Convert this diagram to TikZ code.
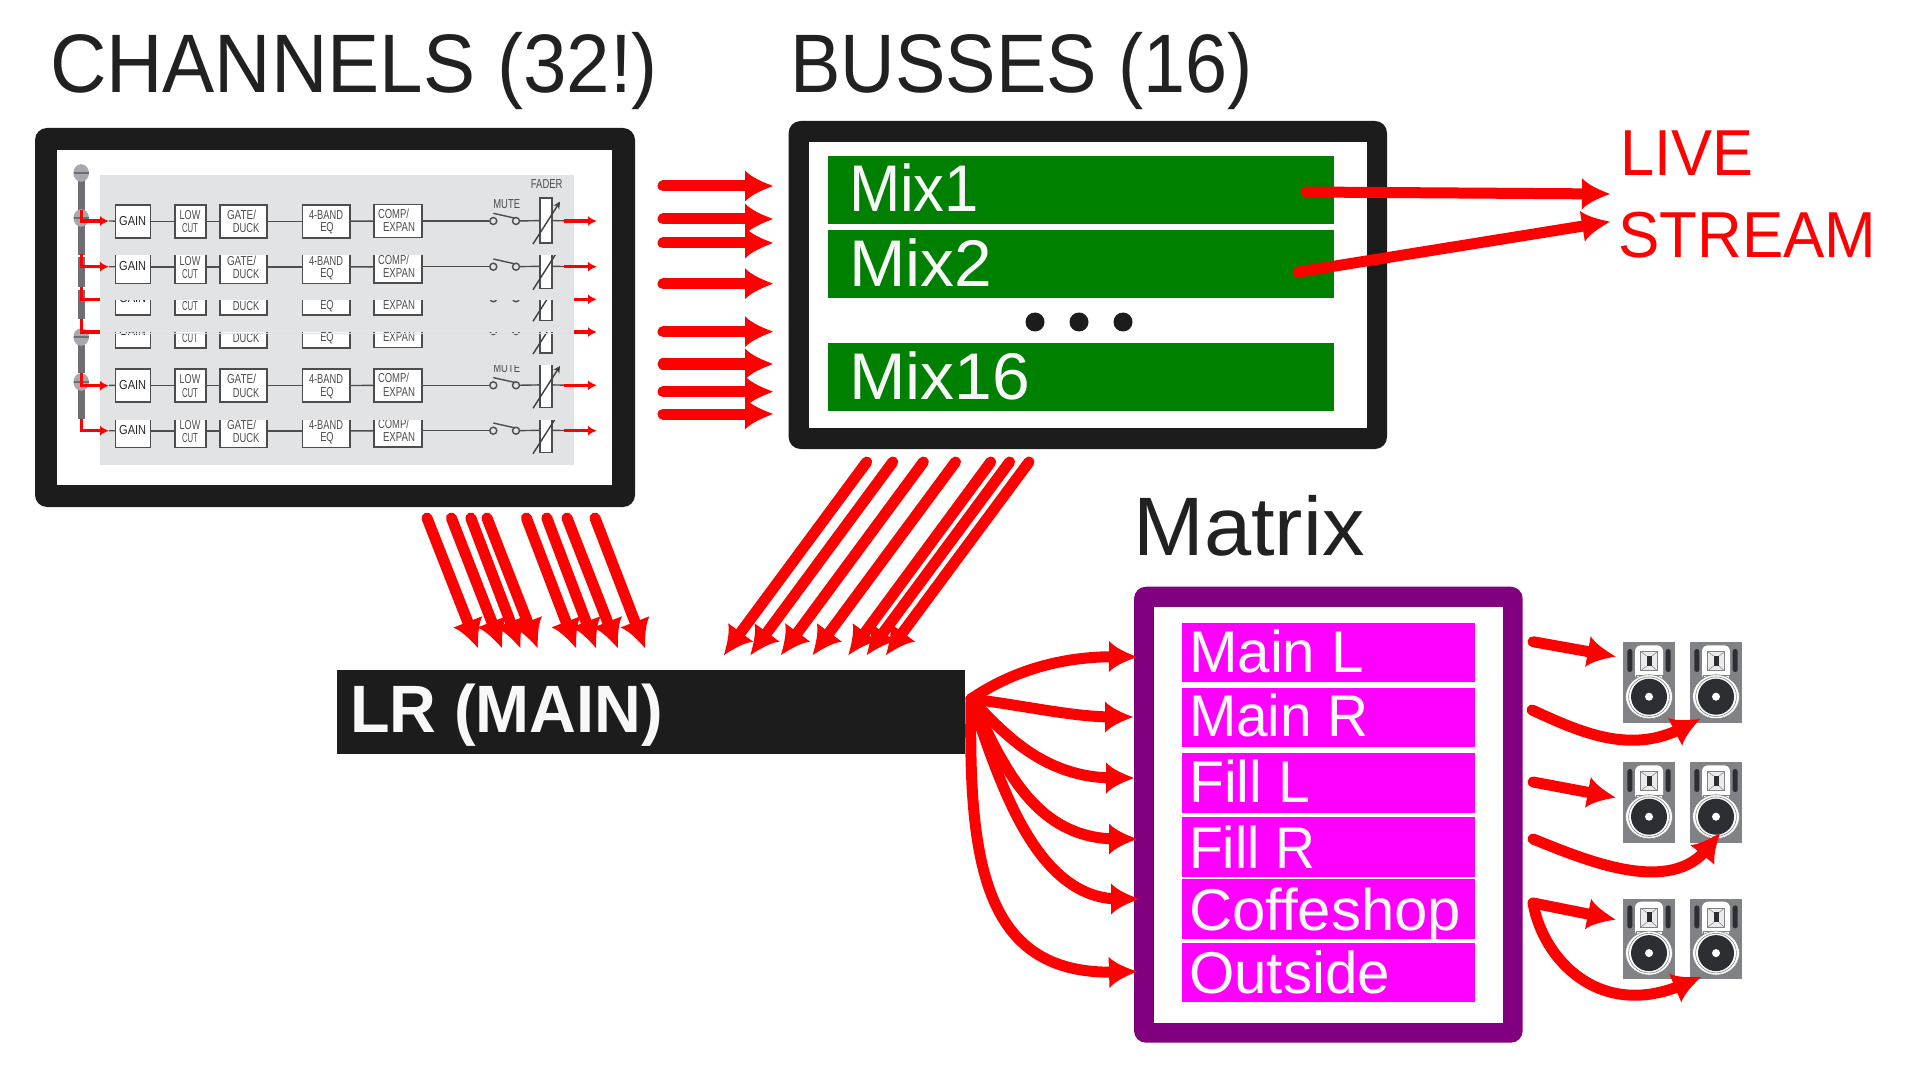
\documentclass[tikz,border=0pt]{standalone}
\usepackage{fontspec}
\usepackage{graphicx}
\setmainfont{Liberation Sans}
\usetikzlibrary{arrows.meta}
\newdimen\pxu \pxu=0.5pt
\newcommand{\fitw}[2]{\resizebox{#1\pxu}{\height}{#2}}
\pgfdeclarearrow{
  name=Swoop,
  defaults={length=13pt,width=15pt},
  setup code={
    \pgfarrowssettipend{\pgfarrowlength}
    \pgfarrowssetbackend{0pt}
    \pgfarrowssetlineend{.3\pgfarrowlength}
    \pgfarrowssetvisualbackend{0pt}
    \pgfarrowshullpoint{\pgfarrowlength}{0pt}
    \pgfarrowsupperhullpoint{0pt}{.5\pgfarrowwidth}
    \pgfarrowssavethe\pgfarrowlength
    \pgfarrowssavethe\pgfarrowwidth
  },
  drawing code={
    \pgfpathmoveto{\pgfqpoint{\pgfarrowlength}{0pt}}
    \pgfpathcurveto{\pgfqpoint{.65\pgfarrowlength}{.12\pgfarrowwidth}}{\pgfqpoint{.22\pgfarrowlength}{.28\pgfarrowwidth}}{\pgfqpoint{0pt}{.5\pgfarrowwidth}}
    \pgfpathlineto{\pgfqpoint{0pt}{-.5\pgfarrowwidth}}
    \pgfpathcurveto{\pgfqpoint{.22\pgfarrowlength}{-.28\pgfarrowwidth}}{\pgfqpoint{.65\pgfarrowlength}{-.12\pgfarrowwidth}}{\pgfqpoint{\pgfarrowlength}{0pt}}
    \pgfpathclose
    \pgfusepathqfill
  },
  parameters={\the\pgfarrowlength,\the\pgfarrowwidth},
}
\definecolor{frameblack}{HTML}{1C1C1C}
\definecolor{panelgrey}{HTML}{E2E3E5}
\definecolor{wiregrey}{HTML}{4D4D4F}
\definecolor{textgrey}{HTML}{4D4D4F}
\definecolor{micbody}{HTML}{6D6E73}
\definecolor{michead}{HTML}{A7A9AC}
\definecolor{spkgrey}{HTML}{808285}
\definecolor{spkdark}{HTML}{2D2E33}
\definecolor{mixgreen}{HTML}{008000}
\definecolor{matpurple}{HTML}{800080}
\definecolor{matpink}{HTML}{FF00FF}
\definecolor{titleink}{HTML}{212121}
\definecolor{paperwhite}{HTML}{F8F8F8}
\tikzset{
  x=0.5pt,y=-0.5pt,
  bigarr/.style={color=red,line width=5.5pt,line cap=round,-{Swoop[length=14pt,width=15.5pt]}},
  tinyarr/.style={color=red,line width=1.75pt,-{Swoop[length=4.2pt,width=4.8pt]}},
  frameouter/.style={fill=frameblack,rounded corners=6pt,inner sep=0pt,outer sep=0pt,anchor=north west},
  plainbox/.style={inner sep=0pt,outer sep=0pt,anchor=north west},
  titletext/.style={inner sep=0pt,outer sep=0pt,anchor=base west,text=titleink,font=\fontsize{41.5}{48}\selectfont},
  bartext/.style={inner sep=0pt,outer sep=0pt,anchor=base west,text=paperwhite,font=\fontsize{33}{40}\selectfont},
  mattext/.style={inner sep=0pt,outer sep=0pt,anchor=base west,text=paperwhite,font=\fontsize{29.5}{36}\selectfont},
  livetext/.style={inner sep=0pt,outer sep=0pt,anchor=base west,text=red,font=\fontsize{32.5}{40}\selectfont},
  stripbox/.style={draw=wiregrey,fill=white,line width=.75pt,inner sep=0pt,outer sep=0pt,anchor=west,minimum height=16.5pt},
  striptext/.style={inner sep=0pt,outer sep=0pt,text=textgrey,font=\fontsize{6.5}{8}\selectfont},
  wire/.style={draw=wiregrey,line width=.7pt},
  dotnode/.style={circle,fill=frameblack,inner sep=0pt,minimum size=9.5pt},
  speakerbody/.style={fill=spkgrey,inner sep=0pt,outer sep=0pt,anchor=north west,minimum width=25.85pt,minimum height=40.2pt},
}
\newcommand{\rectnode}[6]{\node[#1,minimum width={(#4-#2)*0.5pt},minimum height={(#5-#3)*0.5pt}] (#6) at (#2,#3) {};}
\newcommand{\rarrow}[5]{\coordinate (#1s) at (#2,#3); \coordinate (#1e) at (#4,#5); \draw[bigarr] (#1s) -- (#1e);}
\newcommand{\carrow}[9]{\coordinate (#1s) at (#2,#3); \coordinate (#1e) at (#8,#9); \draw[bigarr] (#1s) .. controls (#4,#5) and (#6,#7) .. (#1e);}
\newcommand{\sm}[5]{\node[striptext] (#1) at (#2,#3) {\fitw{#4}{#5}};}
\newcommand{\micbody}[4]{\fill[micbody] (#2,#3) rectangle (#2+7.2,#4);}
\newcommand{\michead}[2]{%
  \fill[michead] (81.2,#2) ellipse [x radius=3.9pt,y radius=4.4pt];
  \draw[draw=micbody,line width=.6pt] (73.5,#2) -- (89,#2);}
\newcommand{\sigl}[4]{\coordinate (#1a) at (81.5,#2); \coordinate (#1b) at (81.5,#3); \coordinate (#1c) at (108.5,#3);
  \draw[tinyarr] (#1a) -- (#1b) -- (#1c);}
\newcommand{\sigr}[3]{\coordinate (#1a) at (#2,#3); \coordinate (#1b) at (596.5,#3); \draw[tinyarr] (#1a) -- (#1b);}
\newcommand{\speaker}[3]{%
  \node[speakerbody] (#1) at (#2,#3) {};
  \begin{scope}[shift={(#2,#3)}]
    \fill[spkdark,rounded corners=1.2pt] (4.3,6.7) rectangle (9.3,29.7);
    \fill[spkdark,rounded corners=1.2pt] (42.7,6.7) rectangle (47.7,29.7);
    \fill[white,rounded corners=3pt] (12,3) rectangle (40,38);
    \draw[draw=spkgrey,line width=.25pt,fill=white] (13,33) -- (39,33) -- (39,39) -- (13,39) -- cycle;
    \draw[draw=spkgrey,fill=white,line width=.3pt] (26,54.4) ellipse [x radius=11.7pt,y radius=11pt];
    \draw[draw=spkgrey,line width=.3pt] (26,54.4) ellipse [x radius=10.2pt,y radius=9.9pt];
    \fill[spkdark] (26,54.4) ellipse [x radius=9pt,y radius=9pt];
    \fill[white] (26,54.4) circle [radius=2pt];
    \draw[draw=spkgrey,fill=black!8,line width=.35pt] (17.7,9.4) rectangle (34.3,28.4);
    \draw[draw=spkgrey,line width=.25pt] (17.7,9.4) -- (23.7,13.7) (34.3,9.4) -- (29,13.7) (17.7,28.4) -- (23.7,23.7) (34.3,28.4) -- (29,23.7);
    \fill[spkdark] (23.7,13.7) rectangle (29,23.7);
  \end{scope}}
\begin{document}
\begin{tikzpicture}
\useasboundingbox (0,0) rectangle (1920,1080);
\fill[white] (0,0) rectangle (1920,1080);
% titles
\node[titletext] (tchan) at (50,93) {\fitw{608}{CHANNELS (32!)}};
\node[titletext] (tbus) at (790.5,93) {\fitw{462}{BUSSES (16)}};
\node[titletext] (tmat) at (1133.5,555) {\fitw{231}{Matrix}};
% channels frame
\rectnode{frameouter}{35}{128}{635}{507}{chanframe}
\rectnode{plainbox,fill=white}{57}{150}{612}{485}{chaninner}
% microphones
\micbody{m1}{77.8}{180}{210}
\michead{m1h}{173}
\micbody{m2}{77.8}{225}{255}
\michead{m2h}{218}
\micbody{m3}{77.5}{257}{287}
\micbody{m4}{77.5}{290}{319}
\micbody{m5}{77.8}{345}{373}
\michead{m5h}{337}
\micbody{m6}{77.8}{388}{419}
\michead{m6h}{382}
% signals hidden in part by the panel
\sigl{l3}{287}{299.3}{}
\sigl{l4}{319}{332}{}
\sigr{r3}{564}{299.3}
\sigr{r4}{564}{332}
% panel
\rectnode{plainbox,fill=panelgrey}{99.6}{175}{574}{465}{panel}
% channel strips
\foreach \n/\ry/\ct in {1/221/175,2/266.7/256,3/298.3/301,4/331/333,5/385.3/365,6/430.7/420}{
  \begin{scope}
    \clip (99.6,\ct) rectangle (574,465);
    \begin{scope}[shift={(0,\ry)}]
      \coordinate (in\n) at (109,0);
      \coordinate (out\n) at (574,0);
      \node[stripbox,minimum width=17.5pt] (gain\n) at (115.7,0.3) {};
      \node[stripbox,minimum width=15.4pt] (low\n) at (175,0.3) {};
      \node[stripbox,minimum width=23.5pt] (gate\n) at (220,0.3) {};
      \node[stripbox,minimum width=23.7pt] (eq\n) at (302.7,0.3) {};
      \node[stripbox,minimum width=23.9pt] (comp\n) at (374,0) {};
      \node[circle,draw=wiregrey,fill=panelgrey,line width=.7pt,inner sep=0pt,minimum size=3.5pt] (mutea\n) at (493.3,0) {};
      \node[circle,draw=wiregrey,fill=panelgrey,line width=.7pt,inner sep=0pt,minimum size=3.5pt] (muteb\n) at (516,0) {};
      \node[stripbox,minimum width=6pt,minimum height=22.5pt] (fader\n) at (540,-0.5) {};
      \draw[wire] (in\n) -- (gain\n);
      \draw[wire] (gain\n) -- (low\n);
      \draw[wire] (low\n) -- (gate\n);
      \draw[wire] (gate\n) -- (eq\n);
      \draw[wire] (eq\n) -- (comp\n);
      \draw[wire] (comp\n) -- (mutea\n);
      \draw[wire] (muteb\n) -- (fader\n);
      \draw[wire] (fader\n) -- (out\n);
      \coordinate (leva\n) at (493.3,-7.7);
      \coordinate (levb\n) at (515,-2.8);
      \draw[wire] (leva\n) -- (levb\n);
      \coordinate (sla\n) at (533,23);
      \coordinate (slb\n) at (560,-19.3);
      \draw[wire,color=frameblack!85,line width=.7pt,-{Stealth[length=3.5pt,width=3.5pt]}] (sla\n) -- (slb\n);
      \sm{tg\n}{132.7}{-0.3}{27}{\textcolor{black!85}{GAIN}}
      \sm{tla\n}{190}{-6}{20.7}{LOW}
      \sm{tlb\n}{190}{7.5}{16}{CUT}
      \sm{tga\n}{241.5}{-6}{29}{GATE/}
      \sm{tgb\n}{246}{7.5}{26.5}{DUCK}
      \sm{tea\n}{326}{-6}{34}{4-BAND}
      \sm{teb\n}{327}{7.5}{13.5}{EQ}
      \sm{tca\n}{393.5}{-7}{31}{COMP/}
      \sm{tcb\n}{399}{6.5}{32}{EXPAN}
      \sm{tm\n}{506.7}{-17}{26.7}{MUTE}
      \sm{tf\n}{546.7}{-37}{31.6}{FADER}
    \end{scope}
  \end{scope}
}
\coordinate (sepa) at (99.6,333);
\coordinate (sepb) at (574,333);
\draw[draw=black!12,line width=.3pt] (sepa) -- (sepb);
% signal arrows visible on top
\sigl{l1}{210}{221}{}
\sigl{l2}{254}{266.7}{}
\sigl{l5}{373}{385.7}{}
\sigl{l6}{419}{430.7}{}
\sigr{r1}{564}{221}
\sigr{r2}{564}{266.7}
\sigr{r5}{564}{385.3}
\sigr{r6}{564}{430.7}
% busses
\rectnode{frameouter}{788.6}{121}{1387}{449}{busframe}
\rectnode{plainbox,fill=white}{809}{142}{1366.5}{427.7}{businner}
\rectnode{plainbox,fill=mixgreen}{827.8}{156}{1334}{224}{mixa}
\rectnode{plainbox,fill=mixgreen}{827.8}{230}{1334}{298}{mixb}
\rectnode{plainbox,fill=mixgreen}{827.8}{343}{1334}{410.7}{mixp}
\node[bartext] (tmixa) at (849,212) {\fitw{130}{Mix1}};
\node[bartext] (tmixb) at (849,286.7) {\fitw{143}{Mix2}};
\node[bartext] (tmixp) at (849,399) {\fitw{181}{Mix16}};
\node[dotnode] (da) at (1035,322) {};
\node[dotnode] (db) at (1079,322) {};
\node[dotnode] (dc) at (1123,322) {};
% into busses
\rarrow{ba}{663}{186}{773}{186}
\rarrow{bb}{663}{219}{773}{219}
\rarrow{bc}{663}{243}{773}{243}
\rarrow{bd}{663}{283.7}{773}{283.7}
\rarrow{be}{663}{331.7}{773}{331.7}
\rarrow{bf}{663}{364}{773}{364}
\rarrow{bg}{663}{391.7}{773}{391.7}
\rarrow{bh}{663}{414}{773}{414}
% live stream
\node[livetext] (tlive) at (1620,175.7) {\fitw{133}{LIVE}};
\node[livetext] (tstream) at (1618.5,258) {\fitw{258}{STREAM}};
\rarrow{la}{1306}{192}{1610}{194}
\rarrow{lb}{1298}{272}{1610}{221.7}
% LR main
\rectnode{plainbox,fill=frameblack}{336.6}{670}{965}{754.3}{lrbar}
\node[bartext,font=\fontsize{33.5}{40}\selectfont\bfseries] (tlr) at (350,732.7) {\fitw{313}{LR (MAIN)}};
% channels to LR
\rarrow{ca}{427}{518}{478}{648}
\rarrow{cb}{451.4}{518}{502}{648}
\rarrow{cc}{470.8}{518}{520.3}{648}
\rarrow{cd}{487}{518}{537.7}{648}
\rarrow{ce}{526.4}{518}{576}{648}
\rarrow{cf}{546.8}{518}{596}{648}
\rarrow{cg}{567}{518}{617.8}{648}
\rarrow{ch}{595}{518}{645}{648}
% busses to LR
\rarrow{da}{866.7}{462}{724}{655}
\rarrow{db}{892.8}{462}{750.4}{655}
\rarrow{dc}{923.4}{462}{781}{655}
\rarrow{dd}{955.5}{462}{812.7}{655}
\rarrow{de}{990.7}{462}{848.4}{655}
\rarrow{df}{1009.6}{462}{866.7}{655}
\rarrow{dg}{1029}{462}{886}{655}
% matrix
\rectnode{frameouter,fill=matpurple}{1134}{586.7}{1522.7}{1042.7}{matframe}
\rectnode{plainbox,fill=white}{1154}{606.7}{1503}{1022.7}{matinner}
\rectnode{plainbox,fill=matpink}{1182}{623}{1475}{682.3}{ma}
\rectnode{plainbox,fill=matpink}{1182}{688}{1475}{747}{mb}
\rectnode{plainbox,fill=matpink}{1182}{753.3}{1475}{812.7}{mc}
\rectnode{plainbox,fill=matpink}{1182}{817}{1475}{876.7}{md}
\rectnode{plainbox,fill=matpink}{1182}{879.3}{1475}{939}{me}
\rectnode{plainbox,fill=matpink}{1182}{942.7}{1475}{1002}{mf}
\node[mattext] (tma) at (1189,672.7) {\fitw{175}{Main L}};
\node[mattext] (tmb) at (1189,736.7) {\fitw{180}{Main R}};
\node[mattext] (tmc) at (1189,802.3) {\fitw{121}{Fill L}};
\node[mattext] (tmd) at (1189,868.7) {\fitw{126}{Fill R}};
\node[mattext] (tme) at (1189,930) {\fitw{272}{Coffeshop}};
\node[mattext] (tmf) at (1189,993.3) {\fitw{201}{Outside}};
% LR to matrix
\carrow{ea}{971}{699}{1012}{671}{1062}{656}{1137}{657}
\carrow{eb}{971}{699}{1022}{705}{1072}{717}{1133}{717}
\carrow{ec}{971}{699}{1002}{731}{1042}{778}{1134}{778}
\carrow{ed}{971}{699}{1002}{761}{1032}{839}{1137}{839}
\carrow{ee}{971}{699}{997}{771}{1032}{899}{1139}{899}
\carrow{ef}{971}{701}{968}{870}{987}{976}{1137}{971.5}
% speakers
\speaker{sa}{1623}{642.3}
\speaker{sb}{1690}{642.3}
\speaker{sc}{1623}{762.3}
\speaker{sd}{1690}{762.3}
\speaker{se}{1623}{898.7}
\speaker{sf}{1690}{898.7}
% matrix to speakers
\rarrow{fa}{1533}{641.7}{1615.5}{656.5}
\carrow{fb}{1532}{710}{1580}{732}{1630}{755}{1700}{719}
\rarrow{fc}{1533}{782}{1615.5}{797.5}
\carrow{fd}{1533}{839}{1590}{862}{1670}{895}{1720}{833}
\rarrow{fe}{1533}{903}{1615.5}{919.5}
\carrow{ff}{1533}{903}{1543}{960}{1600}{1020}{1701}{977}
\end{tikzpicture}
\end{document}
